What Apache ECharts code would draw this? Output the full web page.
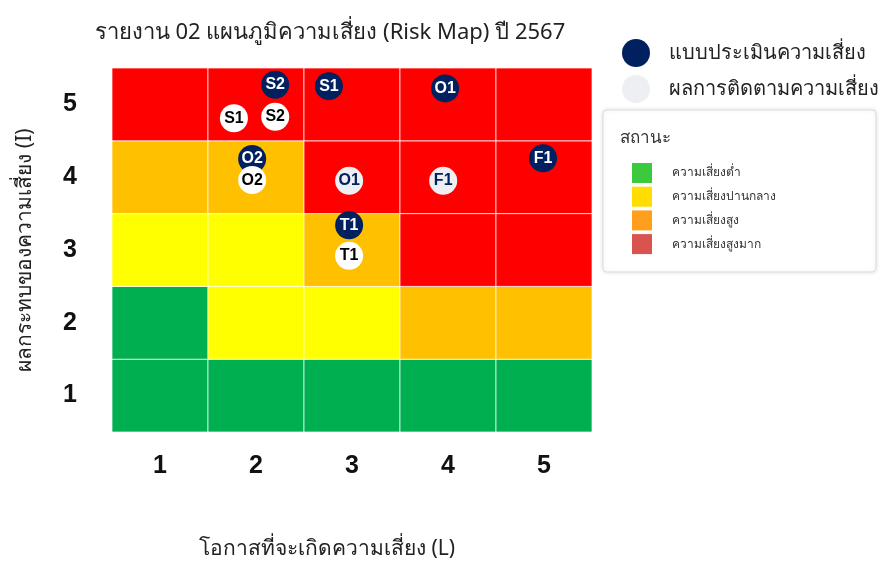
<!DOCTYPE html>
<html>
<head>
<meta charset="utf-8">
<script src="https://cdn.jsdelivr.net/npm/echarts@6/dist/echarts.min.js"></script>
<style>
  html, body { margin: 0; padding: 0; background: #fff; }
  #main { width: 888px; height: 588px; }
</style>
</head>
<body>
<div id="main"></div>
<script>
// ค่าของแกน
const likelihoodTicks = [1, 2, 3, 4, 5];
const impactTicks = [1, 2, 3, 4, 5];

// ระดับความเสี่ยงของแต่ละช่อง (แถวจาก impact 1 ขึ้นไป 5), 0=ต่ำ 1=ปานกลาง 2=สูง 3=สูงมาก
const riskRow1 = [0, 0, 0, 0, 0];
const riskRow2 = [0, 1, 1, 2, 2];
const riskRow3 = [1, 1, 2, 3, 3];
const riskRow4 = [2, 2, 3, 3, 3];
const riskRow5 = [3, 3, 3, 3, 3];
const cellColors = ['#00b050', '#ffff00', '#ffc000', '#ff0000'];

// แบบประเมินความเสี่ยง [L, I, ชื่อ]
const assessPoints = [
  [2.2, 5.27, 'S2'],
  [2.76, 5.25, 'S1'],
  [3.97, 5.22, 'O1'],
  [1.96, 4.25, 'O2'],
  [4.99, 4.26, 'F1'],
  [2.97, 3.34, 'T1']
];
// ผลการติดตามความเสี่ยง [L, I, ชื่อ, แบบสี]
const followPoints = [
  [1.77, 4.81, 'S1', 'w'],
  [2.2, 4.83, 'S2', 'w'],
  [1.96, 3.96, 'O2', 'w'],
  [2.97, 3.95, 'O1', 'g'],
  [3.95, 3.95, 'F1', 'g'],
  [2.97, 2.92, 'T1', 'w']
];

const statusNames = ['ความเสี่ยงต่ำ', 'ความเสี่ยงปานกลาง', 'ความเสี่ยงสูง', 'ความเสี่ยงสูงมาก'];
const statusColors = ['#3dc93d', '#ffdd00', '#ff9f1c', '#d9534f'];

const NAVY = '#012060';
const LIGHT = '#eeeff2';
const FONT = '"Noto Sans", sans-serif';
const NUM_FONT = '"Liberation Sans", Arial, sans-serif';

const cells = [];
[riskRow1, riskRow2, riskRow3, riskRow4, riskRow5].forEach((row, i) => {
  row.forEach((lvl, j) => {
    cells.push([likelihoodTicks[j], impactTicks[i], lvl]);
  });
});

const statusGraphics = [
  {
    type: 'rect',
    shape: { x: 603, y: 110, width: 273, height: 162, r: 4 },
    style: { fill: '#fff', stroke: '#dddddd', lineWidth: 1, shadowBlur: 4, shadowColor: 'rgba(0,0,0,0.12)' }
  },
  {
    type: 'text',
    x: 620, y: 138,
    style: { text: 'สถานะ', fontSize: 17, fontFamily: FONT, fill: '#333', verticalAlign: 'middle' }
  }
];
statusNames.forEach((name, i) => {
  const y = 163 + i * 23.7;
  statusGraphics.push({
    type: 'rect',
    shape: { x: 632, y: y, width: 20, height: 20 },
    style: { fill: statusColors[i] }
  });
  statusGraphics.push({
    type: 'text',
    x: 672, y: y + 10,
    style: { text: name, fontSize: 12, fontFamily: FONT, fill: '#333', verticalAlign: 'middle' }
  });
});

const chart = echarts.init(document.getElementById('main'));

chart.setOption({
  animation: false,
  backgroundColor: '#fff',
  title: {
    text: 'รายงาน 02 แผนภูมิความเสี่ยง (Risk Map) ปี 2567',
    left: 325,
    top: 17,
    textAlign: 'center',
    textStyle: { fontSize: 22, fontWeight: 'normal', color: '#222', fontFamily: FONT }
  },
  legend: {
    orient: 'vertical',
    left: 617,
    top: 34,
    itemWidth: 28,
    itemHeight: 28,
    itemGap: 8,
    icon: 'circle',
    textStyle: { fontSize: 20, color: '#222', fontFamily: FONT, padding: [0, 0, 0, 14] },
    data: [
      { name: 'แบบประเมินความเสี่ยง', itemStyle: { color: NAVY, opacity: 1 } },
      { name: 'ผลการติดตามความเสี่ยง', itemStyle: { color: LIGHT, opacity: 1 } }
    ]
  },
  grid: { left: 112, right: 296, top: 68, bottom: 156 },
  xAxis: {
    type: 'value',
    min: 0.5,
    max: 5.5,
    name: 'โอกาสที่จะเกิดความเสี่ยง (L)',
    nameLocation: 'middle',
    nameGap: 107,
    nameTextStyle: { fontSize: 21, color: '#222', fontFamily: FONT, padding: [0, 50, 0, 0] },
    splitLine: { show: false },
    axisLine: { show: false },
    axisTick: { show: false },
    axisLabel: {
      customValues: likelihoodTicks,
      margin: 22,
      fontSize: 25,
      fontWeight: 'bold',
      color: '#111',
      fontFamily: NUM_FONT
    }
  },
  yAxis: {
    type: 'value',
    min: 0.5,
    max: 5.5,
    name: 'ผลกระทบของความเสี่ยง (I)',
    nameLocation: 'middle',
    nameGap: 76,
    nameTextStyle: { fontSize: 21, color: '#222', fontFamily: FONT },
    splitLine: { show: false },
    axisLine: { show: false },
    axisTick: { show: false },
    axisLabel: {
      customValues: impactTicks,
      margin: 35,
      fontSize: 25,
      fontWeight: 'bold',
      color: '#111',
      fontFamily: NUM_FONT
    }
  },
  graphic: statusGraphics,
  series: [
    {
      type: 'custom',
      silent: true,
      data: cells,
      renderItem: function (params, api) {
        const p = api.coord([api.value(0) - 0.5, api.value(1) + 0.5]);
        const s = api.size([1, 1]);
        return {
          type: 'rect',
          shape: { x: p[0], y: p[1], width: s[0], height: s[1] },
          style: { fill: cellColors[api.value(2)], stroke: 'rgba(255,255,255,0.7)', lineWidth: 1 }
        };
      }
    },
    {
      name: 'แบบประเมินความเสี่ยง',
      type: 'scatter',
      symbolSize: 28,
      itemStyle: { color: NAVY, opacity: 1 },
      label: {
        show: true,
        position: 'inside',
        formatter: p => p.value[2],
        color: '#fff',
        fontSize: 16,
        fontWeight: 'bold',
        fontFamily: NUM_FONT
      },
      data: assessPoints
    },
    {
      name: 'ผลการติดตามความเสี่ยง',
      type: 'scatter',
      symbolSize: 28,
      itemStyle: { color: LIGHT, opacity: 1 },
      label: {
        show: true,
        position: 'inside',
        formatter: p => p.value[2],
        fontSize: 16,
        fontWeight: 'bold',
        fontFamily: NUM_FONT
      },
      data: followPoints.map(d => ({
        value: d,
        itemStyle: { color: d[3] === 'w' ? '#ffffff' : LIGHT, opacity: 1 },
        label: { color: d[3] === 'w' ? '#000' : NAVY }
      }))
    }
  ]
});
</script>
</body>
</html>
